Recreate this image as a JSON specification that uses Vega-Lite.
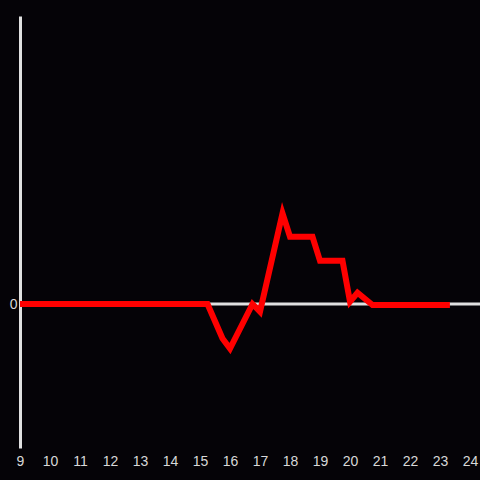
{
  "$schema": "https://vega.github.io/schema/vega-lite/v6.json",
  "autosize": {"type": "none"},
  "padding": {"left": 20, "top": 16, "right": 0, "bottom": 32},
  "width": 460,
  "height": 432,
  "background": "#050307",
  "config": {
    "view": {"stroke": null},
    "axis": {"grid": false, "ticks": false, "labelFont": "Liberation Sans", "labelFontSize": 14, "labelColor": "#d8d8d8"}
  },
  "data": {
    "values": [
      {"hour": 9, "value": 0},
      {"hour": 15.25, "value": 0},
      {"hour": 15.75, "value": -0.24},
      {"hour": 16.0, "value": -0.31},
      {"hour": 16.75, "value": 0.0},
      {"hour": 17.0, "value": -0.053},
      {"hour": 17.75, "value": 0.63},
      {"hour": 18.0, "value": 0.467},
      {"hour": 18.75, "value": 0.467},
      {"hour": 19.0, "value": 0.3},
      {"hour": 19.75, "value": 0.3},
      {"hour": 20.0, "value": 0.016},
      {"hour": 20.25, "value": 0.078},
      {"hour": 20.75, "value": -0.007},
      {"hour": 23.33, "value": -0.007}
    ]
  },
  "layer": [
    {
      "data": {"values": [{"z": 0}]},
      "mark": {"type": "rule", "color": "#e0e0e0", "strokeWidth": 3},
      "encoding": {"y": {"field": "z", "type": "quantitative", "scale": {"domain": [-1, 2]}}}
    },
    {
      "mark": {"type": "line", "color": "#ff0000", "strokeWidth": 6, "strokeJoin": "miter", "strokeCap": "butt"},
      "encoding": {
        "x": {
          "field": "hour", "type": "quantitative",
          "scale": {"domain": [9, 24.333], "nice": false, "zero": false},
          "axis": {"title": null, "domain": false, "values": [9,10,11,12,13,14,15,16,17,18,19,20,21,22,23,24], "format": "d", "labelPadding": 6, "labelFlush": false}
        },
        "y": {
          "field": "value", "type": "quantitative",
          "scale": {"domain": [-1, 2], "nice": false, "zero": false},
          "axis": {"title": null, "values": [0], "format": "d", "domain": true, "domainColor": "#e0e0e0", "domainWidth": 3, "labelPadding": 3}
        }
      }
    }
  ]
}
